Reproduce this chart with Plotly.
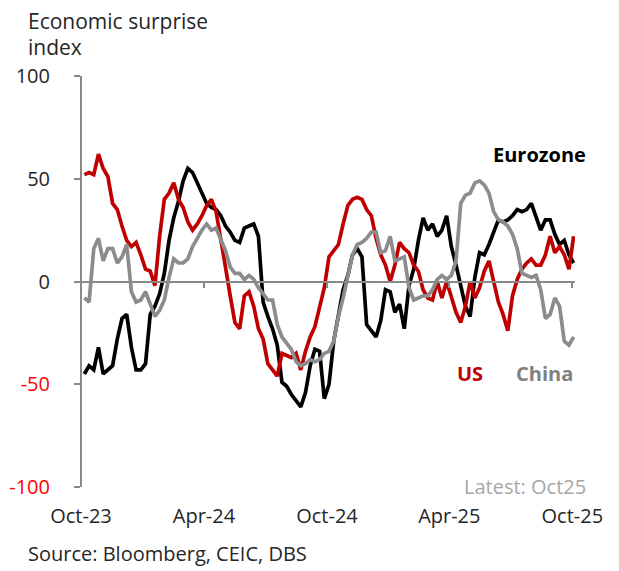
import pandas as pd
import plotly.graph_objects as go

# Weekly observation dates (Oct-23 .. Oct-25)
dates = pd.date_range("2023-10-06", periods=105, freq="7D")

us = [52, 53, 52, 62, 55, 51, 38, 35, 27, 20, 17, 19, 13, 6, 5, -2, 22, 40, 43, 48,
      40, 36, 29, 25, 28, 32, 37, 40, 34, 19, 7, -7, -20, -23, -7, -5, -12, -23, -28, -40,
      -43, -46, -35, -36, -37, -35, -43, -34, -27, -22, -12, -3, 12, 15, 18, 28, 37, 40, 41, 40,
      35, 32, 21, 13, 8, 0, 8, 19, 16, 14, 8, 5, -4, -8, -9, 0, -8, 0, -7, -15,
      -20, -12, 0, -8, -3, 5, 10, -1, -10, -16, -24, -7, 1, 6, 9, 11, 8, 8, 13, 22,
      14, 17, 13, 6, 22]

eurozone = [-45, -41, -43, -32, -45, -43, -41, -28, -18, -16, -32, -43, -43, -40, -16, -12, -6, 4, 20, 31,
            39, 49, 55, 53, 48, 42, 38, 36, 35, 32, 27, 24, 20, 19, 26, 27, 28, 22, -10, -17,
            -23, -31, -49, -51, -55, -58, -61, -54, -41, -33, -34, -57, -50, -29, -17, -4, 3, 13, 16, 12,
            -21, -24, -27, -19, -4, -5, -15, -11, -23, -2, 6, 20, 31, 25, 28, 22, 25, 32, 17, 8,
            -3, -12, -17, 2, 14, 13, 18, 24, 30, 29, 30, 32, 35, 34, 35, 38, 32, 25, 30, 30,
            23, 18, 20, 13, 9]

china = [-8, -10, 16, 21, 10, 16, 16, 9, 12, 18, -5, -10, -9, -5, -11, -17, -14, -9, 2, 11,
         9, 9, 11, 17, 21, 25, 28, 25, 26, 21, 15, 7, 4, 4, 1, 3, 1, -3, -6, -9,
         -9, -21, -27, -30, -33, -39, -41, -40, -38, -39, -38, -35, -34, -29, -17, -8, 3, 13, 18, 19,
         21, 24, 24, 14, 15, 22, 10, 11, 12, -3, -9, -8, -7, -7, -4, 1, 3, 1, 3, 10,
         38, 42, 43, 48, 49, 47, 43, 34, 30, 29, 27, 23, 16, 4, 3, 2, 3, -4, -18, -16,
         -8, -12, -29, -31, -27]

x_tick_dates = ["2023-10-01", "2024-04-01", "2024-10-01", "2025-04-01", "2025-10-01"]
y_tick_vals = [100, 50, 0, -50, -100]
y_tick_text = ["100", "50", "0",
               "<span style='color:#FF0000'>-50</span>",
               "<span style='color:#FF0000'>-100</span>"]

FONT = "Open Sans"
TXT = "#262626"
AX = "#898989"

fig = go.Figure()
fig.add_trace(go.Scatter(x=dates, y=eurozone, mode="lines", name="Eurozone",
                         line=dict(color="#000000", width=3.7), xaxis="x", yaxis="y"))
fig.add_trace(go.Scatter(x=dates, y=us, mode="lines", name="US",
                         line=dict(color="#C00000", width=3.7), xaxis="x", yaxis="y"))
fig.add_trace(go.Scatter(x=dates, y=china, mode="lines", name="China",
                         line=dict(color="#8C8C8C", width=3.7), xaxis="x2", yaxis="y2"))

xr = ["2023-10-01", "2025-10-05"]
yr = [-100, 100]
fig.update_layout(
    width=611, height=563,
    margin=dict(l=73, r=44, t=68, b=84),
    paper_bgcolor="white", plot_bgcolor="white",
    showlegend=False,
    font=dict(family=FONT, size=19, color=TXT),
    xaxis=dict(type="date", range=xr, tickvals=x_tick_dates, tickformat="%b-%y",
               showgrid=False, zeroline=False, showline=False, automargin=False,
               ticks="outside", ticklen=0, ticklabelstandoff=11,
               tickfont=dict(family=FONT, size=20, color=TXT)),
    xaxis2=dict(type="date", range=xr, matches="x", overlaying="x", anchor="free",
                position=0.5, side="bottom", tickvals=x_tick_dates, automargin=False,
                showgrid=False, zeroline=False, showline=True, linecolor=AX, linewidth=2,
                ticks="outside", ticklen=5, tickwidth=2, tickcolor=AX,
                showticklabels=False),
    yaxis=dict(range=yr, tickvals=y_tick_vals, ticktext=y_tick_text,
               showgrid=False, zeroline=False, showline=False, automargin=False,
               ticks="outside", ticklen=26, tickcolor="rgba(0,0,0,0)",
               tickfont=dict(family=FONT, size=20, color=TXT)),
    yaxis2=dict(range=yr, matches="y", overlaying="y", anchor="free", position=0,
                side="left", tickvals=y_tick_vals, automargin=False,
                showgrid=False, zeroline=False, showline=True, linecolor=AX, linewidth=2,
                ticks="outside", ticklen=6, tickwidth=2, tickcolor=AX,
                showticklabels=False),
    annotations=[
        dict(text="Economic surprise", xref="paper", yref="paper", x=-0.111, y=1.135,
             xanchor="left", yanchor="middle", showarrow=False,
             font=dict(family=FONT, size=21, color=TXT)),
        dict(text="index", xref="paper", yref="paper", x=-0.111, y=1.070,
             xanchor="left", yanchor="middle", showarrow=False,
             font=dict(family=FONT, size=21, color=TXT)),
        dict(text="<b>Eurozone</b>", xref="paper", yref="paper", x=1.026, y=0.810,
             xanchor="right", yanchor="middle", showarrow=False,
             font=dict(family=FONT, size=20, color="#000000")),
        dict(text="<b>US</b>", xref="paper", yref="paper", x=0.787, y=0.277,
             xanchor="center", yanchor="middle", showarrow=False,
             font=dict(family=FONT, size=20, color="#C00000")),
        dict(text="<b>China</b>", xref="paper", yref="paper", x=0.939, y=0.277,
             xanchor="center", yanchor="middle", showarrow=False,
             font=dict(family=FONT, size=20, color="#808080")),
        dict(text="Latest: Oct25", xref="paper", yref="paper", x=1.026, y=0.0024,
             xanchor="right", yanchor="middle", showarrow=False,
             font=dict(family=FONT, size=20, color="#A6A6A6")),
        dict(text="Source: Bloomberg, CEIC, DBS", xref="paper", yref="paper", x=-0.111, y=-0.1606,
             xanchor="left", yanchor="middle", showarrow=False,
             font=dict(family=FONT, size=20, color=TXT)),
    ],
)

fig.write_html("out.html")
